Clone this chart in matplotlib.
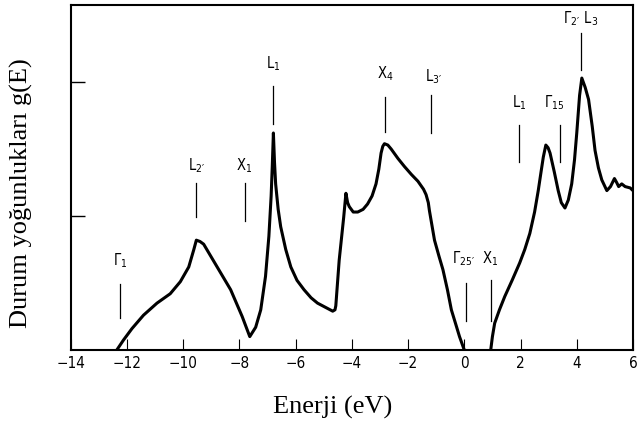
import matplotlib
matplotlib.use("Agg")
import matplotlib.pyplot as plt

# Valence band density of states (E in eV, g in arbitrary units)
E_val = [-12.36, -12.12, -11.82, -11.41, -10.93, -10.46, -10.10, -9.80, -9.62, -9.53,
         -9.40, -9.27, -8.79, -8.31, -7.90, -7.63, -7.42, -7.24, -7.07, -6.95,
         -6.87, -6.83, -6.79, -6.75, -6.71, -6.62, -6.53, -6.35, -6.17, -5.95,
         -5.70, -5.45, -5.22, -4.95, -4.68, -4.60, -4.57, -4.45, -4.29, -4.21,
         -4.15, -4.09, -3.95, -3.79, -3.60, -3.44, -3.28, -3.14, -3.04, -2.96,
         -2.90, -2.84, -2.72, -2.60, -2.36, -2.13, -1.88, -1.65, -1.45, -1.36,
         -1.28, -1.24, -1.15, -1.06, -0.90, -0.76, -0.60, -0.46, -0.30, -0.17, 0.0]
g_val = [0.00, 0.075, 0.16, 0.26, 0.35, 0.42, 0.51, 0.62, 0.75, 0.82,
         0.81, 0.79, 0.62, 0.45, 0.25, 0.10, 0.17, 0.30, 0.55, 0.85,
         1.15, 1.37, 1.62, 1.40, 1.24, 1.05, 0.92, 0.75, 0.62, 0.52,
         0.45, 0.39, 0.35, 0.32, 0.29, 0.30, 0.33, 0.67, 0.99, 1.17,
         1.10, 1.07, 1.03, 1.03, 1.05, 1.09, 1.15, 1.24, 1.35, 1.47,
         1.52, 1.54, 1.53, 1.50, 1.43, 1.37, 1.31, 1.26, 1.20, 1.16,
         1.10, 1.04, 0.93, 0.82, 0.70, 0.60, 0.45, 0.30, 0.19, 0.10, 0.0]

# Conduction band density of states
E_con = [0.94, 1.00, 1.08, 1.25, 1.44, 1.70, 1.97, 2.15, 2.33, 2.50,
         2.63, 2.73, 2.81, 2.90, 2.98, 3.05, 3.20, 3.34, 3.45, 3.58,
         3.70, 3.82, 3.92, 4.00, 4.10, 4.18, 4.30, 4.42, 4.55, 4.65,
         4.77, 4.89, 5.07, 5.20, 5.34, 5.42, 5.49, 5.60, 5.72, 5.90, 6.05]
g_con = [0.00, 0.10, 0.20, 0.30, 0.40, 0.52, 0.65, 0.75, 0.87, 1.03,
         1.19, 1.33, 1.44, 1.53, 1.51, 1.47, 1.33, 1.19, 1.10, 1.06,
         1.12, 1.24, 1.42, 1.62, 1.90, 2.03, 1.96, 1.87, 1.67, 1.49,
         1.36, 1.27, 1.19, 1.22, 1.28, 1.25, 1.22, 1.24, 1.22, 1.21, 1.18]

# Critical point markers
mark_labels = [r"$\mathregular{\Gamma_1}$", r"$\mathregular{L_{2′}}$", r"$\mathregular{X_1}$",
               r"$\mathregular{L_1}$", r"$\mathregular{X_4}$", r"$\mathregular{L_{3′}}$",
               r"$\mathregular{\Gamma_{25′}}$", r"$\mathregular{X_1}$", r"$\mathregular{L_1}$",
               r"$\mathregular{\Gamma_{15}}$", r"$\mathregular{\Gamma_{2′}\ L_3}$"]
mark_E = [-12.24, -9.56, -7.80, -6.79, -2.82, -1.18, 0.07, 0.94, 1.94, 3.40, 4.15]
mark_lo = [0.24, 0.99, 0.96, 1.69, 1.63, 1.62, 0.22, 0.22, 1.40, 1.40, 2.09]
mark_hi = [0.49, 1.25, 1.25, 1.97, 1.89, 1.90, 0.50, 0.52, 1.68, 1.68, 2.37]
label_E = [-12.24, -9.53, -7.82, -6.79, -2.82, -1.10, -0.02, 0.92, 1.94, 3.20, 4.12]
label_y = [0.60, 1.31, 1.31, 2.07, 1.99, 1.97, 0.61, 0.61, 1.78, 1.78, 2.40]

x_ticks = [-14, -12, -10, -8, -6, -4, -2, 0, 2, 4, 6]
y_ticks = [1, 2]

fig = plt.figure(figsize=(6.39, 4.28), dpi=100)
ax = fig.add_axes([0.1106, 0.1822, 0.880, 0.806])

ax.plot(E_val, g_val, color="black", lw=2.2, solid_joinstyle="round")
ax.plot(E_con, g_con, color="black", lw=2.2, solid_joinstyle="round")

for lab, e, lo, hi, lx, ly in zip(mark_labels, mark_E, mark_lo, mark_hi, label_E, label_y):
    ax.plot([e, e], [lo, hi], color="black", lw=0.9)
    ax.text(lx, ly, lab, ha="center", va="bottom", fontsize=10.5,
            family="DejaVu Sans", stretch="condensed")

ax.set_xlim(-14, 6)
ax.set_ylim(0, 2.575)
ax.set_xticks(x_ticks)
ax.set_xticklabels([("\u2212" + str(-t)) if t < 0 else str(t) for t in x_ticks],
                   family="DejaVu Sans", stretch="condensed", fontsize=11)
ax.set_yticks(y_ticks)
ax.set_yticklabels([])
ax.tick_params(axis="x", direction="in", length=8, width=0.8, pad=4)
ax.tick_params(axis="y", direction="in", length=10, width=1.0)
for s in ax.spines.values():
    s.set_linewidth(1.5)

serif = ["Liberation Serif", "DejaVu Serif"]
ax.set_xlabel("Enerji (eV)", family=serif, fontsize=19)
ax.set_ylabel("Durum yoğunlukları g(E)", family=serif, fontsize=19)
ax.xaxis.set_label_coords(0.465, -0.133)
ax.yaxis.set_label_coords(-0.067, 0.455)

fig.savefig("out.png", dpi=100)
